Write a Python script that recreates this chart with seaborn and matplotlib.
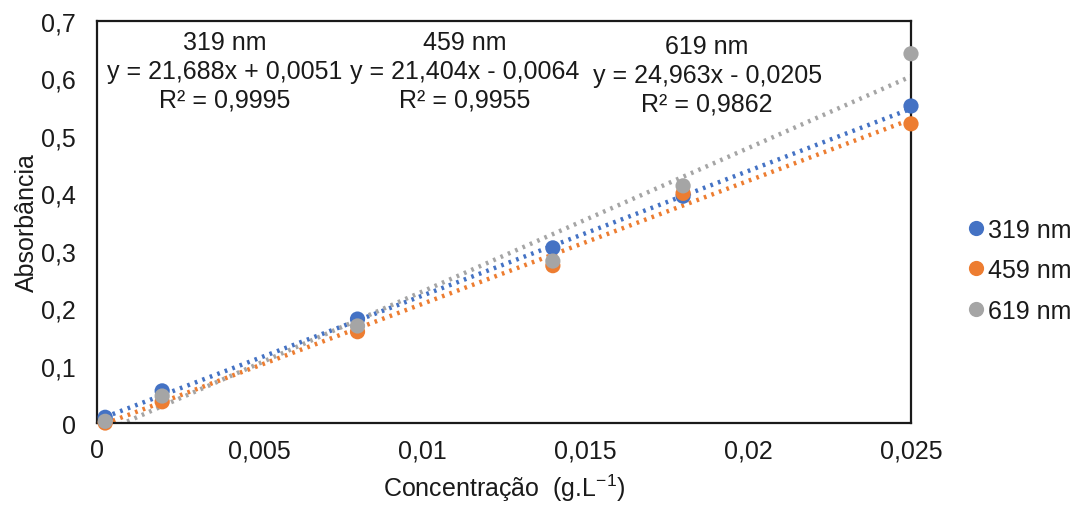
import numpy as np
import pandas as pd
import matplotlib
matplotlib.use("Agg")
import matplotlib.pyplot as plt
import seaborn as sns

# Calibration data: concentration (g/L) vs absorbance at three wavelengths
concentracao = [0.00025, 0.002, 0.008, 0.014, 0.018, 0.025]
abs_319 = [0.010, 0.056, 0.181, 0.305, 0.395, 0.552]
abs_459 = [0.000, 0.037, 0.159, 0.274, 0.400, 0.521]
abs_619 = [0.003, 0.047, 0.169, 0.282, 0.413, 0.643]

series_names = ["319 nm", "459 nm", "619 nm"]
slopes = [21.688, 21.404, 24.963]
intercepts = [0.0051, -0.0064, -0.0205]
r2_values = ["0,9995", "0,9955", "0,9862"]
colors = ["#4472C4", "#ED7D31", "#A5A5A5"]

x_ticks = [0, 0.005, 0.01, 0.015, 0.02, 0.025]
x_tick_labels = ["0", "0,005", "0,01", "0,015", "0,02", "0,025"]
y_ticks = [0, 0.1, 0.2, 0.3, 0.4, 0.5, 0.6, 0.7]
y_tick_labels = ["0", "0,1", "0,2", "0,3", "0,4", "0,5", "0,6", "0,7"]

df = pd.DataFrame({
    "Concentração": concentracao * 3,
    "Absorbância": abs_319 + abs_459 + abs_619,
    "Comprimento": [n for n in series_names for _ in concentracao],
})

sns.set_style("white")
plt.rcParams["font.family"] = ["Liberation Sans", "DejaVu Sans"]
FS = 18
TXT = "#1a1a1a"

fig = plt.figure(figsize=(10.7, 5.06), dpi=100)
ax = fig.add_axes([0.0907, 0.162, 0.7607, 0.7945])

# Linear trendlines from the fitted coefficients
xs = np.array([min(concentracao), max(concentracao)])
for m, b, c in zip(slopes, intercepts, colors):
    ax.plot(xs, m * xs + b, linestyle=(0, (0.6, 1.2)), color=c, lw=3.2, zorder=2)

sns.scatterplot(data=df, x="Concentração", y="Absorbância", hue="Comprimento",
                palette=colors, s=120, edgecolor="none", linewidth=0, ax=ax,
                zorder=3, clip_on=False)

ax.set_xlim(0, 0.025)
ax.set_ylim(0, 0.7)
ax.set_xticks(x_ticks)
ax.set_xticklabels(x_tick_labels)
ax.set_yticks(y_ticks)
ax.set_yticklabels(y_tick_labels)
ax.tick_params(axis="both", length=0, labelsize=FS, colors=TXT)
ax.tick_params(axis="y", pad=15)
ax.tick_params(axis="x", pad=11)
for sp in ax.spines.values():
    sp.set_visible(True)
    sp.set_color("#1a1a1a")
    sp.set_linewidth(1.6)

ax.set_xlabel("Concentração  (g.L$^{\\mathregular{-1}}$)", fontsize=FS, color=TXT, labelpad=7)
ax.set_ylabel("Absorbância", fontsize=FS, color=TXT, labelpad=2)

# Trendline equations
label_pos = [(0.00393, 0.684), (0.0113, 0.684), (0.01874, 0.677)]
for name, m, b, r2, (lx, ly) in zip(series_names, slopes, intercepts, r2_values, label_pos):
    sign = "+" if b >= 0 else "-"
    txt = f"{name}\ny = {m:.3f}x {sign} {abs(b):.4f}\nR² = {r2}".replace(".", ",")
    ax.text(lx, ly, txt, ha="center", va="top", fontsize=FS, color=TXT,
            linespacing=1.24, zorder=5)

sns.move_legend(ax, "center left", bbox_to_anchor=(0.898, 0.464),
                bbox_transform=fig.transFigure, frameon=False,
                title=None, fontsize=FS, handletextpad=-0.1, handlelength=1.2,
                labelspacing=0.66, markerscale=1.0, borderaxespad=0, borderpad=0)
for t in ax.get_legend().get_texts():
    t.set_color(TXT)

fig.savefig("out.png", dpi=100, facecolor="white")
